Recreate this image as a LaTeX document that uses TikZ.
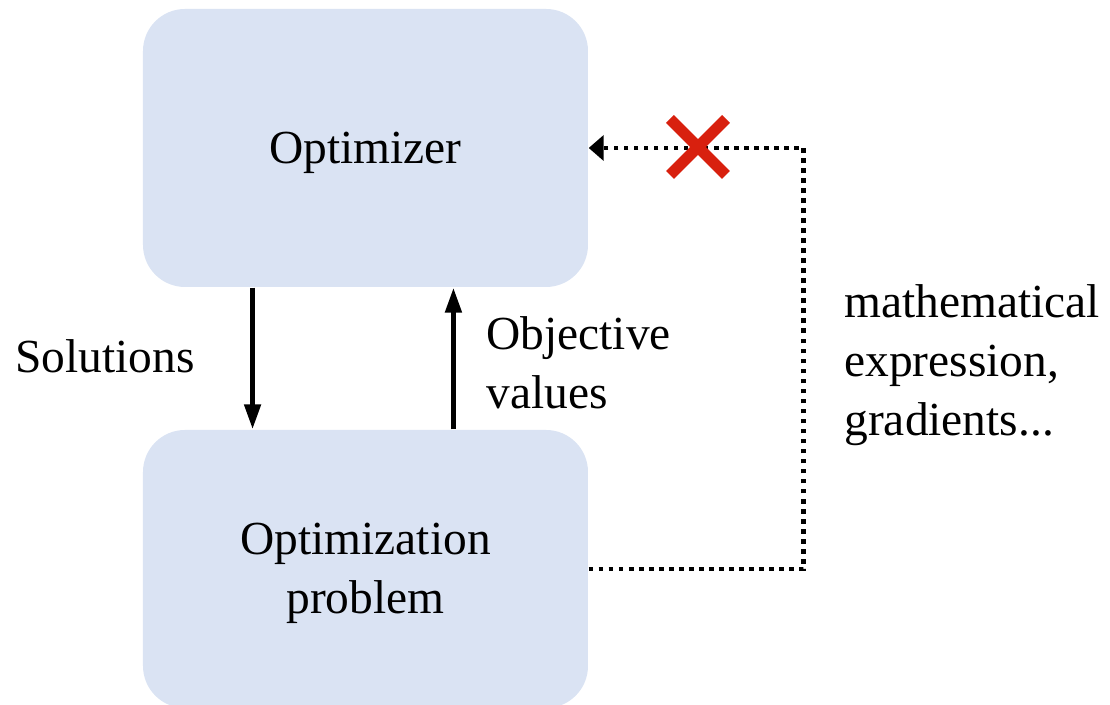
\documentclass[tikz,border=0pt]{standalone}
\usepackage{fontspec}
\setmainfont{Liberation Serif}
\usetikzlibrary{calc,arrows.meta}
\definecolor{boxblue}{HTML}{DAE3F3}
\definecolor{crossred}{HTML}{D8200E}
\tikzset{
	panel/.style={fill=boxblue, rounded corners=0.42cm, minimum width=4.45cm, minimum height=2.78cm, inner sep=0pt},
	flow/.style={line width=1.4pt, -{Triangle[length=0.25cm, width=0.16cm]}},
	fb/.style={line width=1.35pt, dash pattern=on 1.35pt off 1.5pt, -{Triangle[length=0.15cm, width=0.25cm]}},
}

\begin{document}
\begin{tikzpicture}[font=\fontsize{13.5}{16.8}\selectfont]
			%%%%% START %%%%%
			\useasboundingbox (0, 0) rectangle (11.1, 7.05);
			
			\node[panel] (opt) at (3.655, 5.57) {};
			\node[panel] (prob) at (3.655, 1.36) {};
			\node (optname) at ([yshift=-0.05cm]opt.center) {Optimizer};
			\node[align=center] (probname) at ([yshift=-0.04cm]prob.center) {Optimization\\problem};
			
			% solutions / objective values
			\draw[flow] ($(opt.south west)!0.247!(opt.south east)$) -- ($(prob.north west)!0.247!(prob.north east)$);
			\draw[flow] ($(prob.north west)!0.697!(prob.north east)$) -- ($(opt.south west)!0.697!(opt.south east)$);
			\node[anchor=base west] (sol) at (0.03, 3.32) {Solutions};
			\node[anchor=west, align=left] (obj) at (4.74, 3.42) {Objective\\values};
			
			% information that the optimizer does not get
			\draw[fb] (prob.east) -- ++(2.15, 0) coordinate (bend) |- (opt.east);
			\node[anchor=west, align=left] (info) at (8.32, 3.40) {mathematical\\expression,\\gradients...};
			
			\coordinate (cross) at (6.98, 5.58);
			\draw[crossred, line width=0.11cm] ($(cross)+(-0.28, -0.28)$) -- ($(cross)+(0.28, 0.28)$);
			\draw[crossred, line width=0.11cm] ($(cross)+(-0.28, 0.28)$) -- ($(cross)+(0.28, -0.28)$);
			
			%%%%% END %%%%%
\end{tikzpicture}
\end{document}
